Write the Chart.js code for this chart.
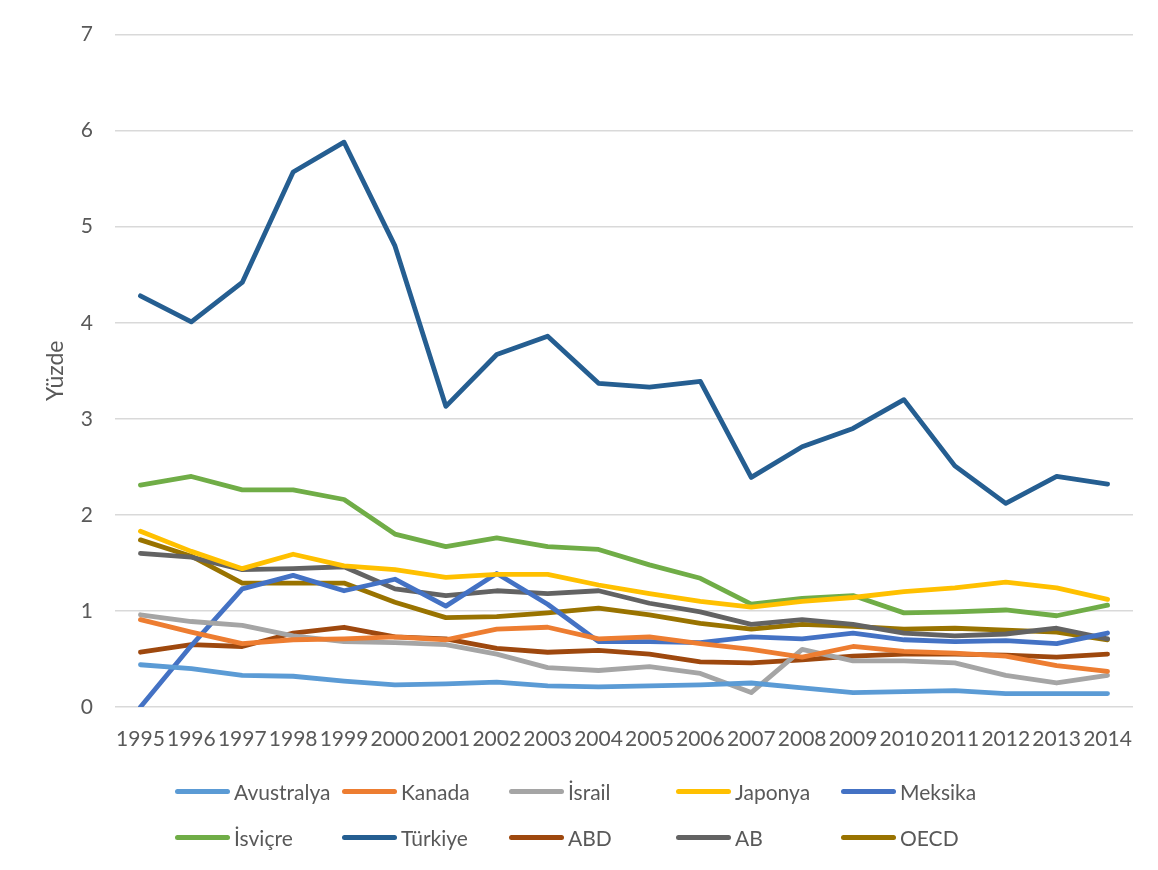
<!DOCTYPE html>
<html>
<head>
<meta charset="utf-8">
<script src="https://cdn.jsdelivr.net/npm/chart.js@4"></script>
<style>
  body { margin: 0; background: #fff; }
  #wrap { position: relative; width: 1158px; height: 870px; }
  #legend { position: absolute; left: 0; top: 0; width: 1158px; height: 870px; pointer-events: none;
            font-family: Lato, "Open Sans", sans-serif; font-size: 21px; color: #595959; }
  .item { position: absolute; display: flex; align-items: center; height: 26px; white-space: nowrap; }
  .item .sw { display: inline-block; width: 55px; height: 5px; border-radius: 3px; margin-right: 4px; }
</style>
</head>
<body>
<div id="wrap">
  <canvas id="chart" width="1158" height="870"></canvas>
  <div id="legend"></div>
</div>
<script>
// years on the x axis
const years = ["1995","1996","1997","1998","1999","2000","2001","2002","2003","2004",
               "2005","2006","2007","2008","2009","2010","2011","2012","2013","2014"];

const yTicks = [0, 1, 2, 3, 4, 5, 6, 7];

// series values (percent)
const avustralya = [0.44,0.40,0.33,0.32,0.27,0.23,0.24,0.26,0.22,0.21,0.22,0.23,0.25,0.20,0.15,0.16,0.17,0.14,0.14,0.14];
const kanada     = [0.91,0.78,0.66,0.70,0.71,0.73,0.70,0.81,0.83,0.71,0.73,0.66,0.60,0.52,0.63,0.58,0.56,0.53,0.43,0.37];
const israil     = [0.96,0.89,0.85,0.74,0.68,0.67,0.65,0.55,0.41,0.38,0.42,0.35,0.15,0.60,0.48,0.48,0.46,0.33,0.25,0.33];
const japonya    = [1.83,1.62,1.44,1.59,1.47,1.43,1.35,1.38,1.38,1.27,1.18,1.10,1.04,1.10,1.14,1.20,1.24,1.30,1.24,1.12];
const meksika    = [0.00,0.64,1.23,1.37,1.21,1.33,1.05,1.39,1.07,0.68,0.68,0.67,0.73,0.71,0.77,0.70,0.68,0.69,0.66,0.77];
const isvicre    = [2.31,2.40,2.26,2.26,2.16,1.80,1.67,1.76,1.67,1.64,1.48,1.34,1.07,1.13,1.16,0.98,0.99,1.01,0.95,1.06];
const turkiye    = [4.28,4.01,4.42,5.57,5.88,4.80,3.13,3.67,3.86,3.37,3.33,3.39,2.39,2.71,2.90,3.20,2.51,2.12,2.40,2.32];
const abd        = [0.57,0.65,0.63,0.77,0.83,0.73,0.71,0.61,0.57,0.59,0.55,0.47,0.46,0.49,0.53,0.55,0.55,0.54,0.52,0.55];
const ab         = [1.60,1.56,1.43,1.44,1.46,1.23,1.16,1.21,1.18,1.21,1.08,0.99,0.86,0.91,0.86,0.77,0.74,0.76,0.82,0.71];
const oecd       = [1.74,1.57,1.29,1.29,1.29,1.09,0.93,0.94,0.98,1.03,0.96,0.87,0.81,0.86,0.84,0.81,0.82,0.80,0.78,0.70];

const names  = ["Avustralya","Kanada","İsrail","Japonya","Meksika","İsviçre","Türkiye","ABD","AB","OECD"];
const colors = ["#5B9BD5","#ED7D31","#A5A5A5","#FFC000","#4472C4","#70AD47","#255E91","#9E480E","#636363","#997300"];
const series = [avustralya,kanada,israil,japonya,meksika,isvicre,turkiye,abd,ab,oecd];

const txt = "#595959";
const font = "Lato, 'Open Sans', sans-serif";

const datasets = series.map((vals, i) => ({
  label: names[i],
  data: vals,
  borderColor: colors[i],
  backgroundColor: colors[i],
  borderWidth: 4.8,
  borderCapStyle: "round",
  borderJoinStyle: "round",
  pointRadius: 0,
  tension: 0,
  fill: false
}));

new Chart(document.getElementById("chart"), {
  type: "line",
  data: { labels: years, datasets: datasets },
  options: {
    responsive: false,
    animation: false,
    layout: { padding: { left: 0, right: 25, top: 32, bottom: 0 } },
    plugins: { legend: { display: false }, tooltip: { enabled: false } },
    scales: {
      x: {
        offset: true,
        grid: { display: false, drawTicks: false },
        border: { display: false },
        ticks: { color: txt, font: { family: font, size: 21 }, padding: 20, maxRotation: 0, autoSkip: false },
        afterFit: s => { s.height = 163; }
      },
      y: {
        min: 0, max: 7,
        afterBuildTicks: s => { s.ticks = yTicks.map(v => ({ value: v })); },
        grid: { color: "#D9D9D9", lineWidth: 1.5, drawTicks: false },
        border: { display: false },
        ticks: { color: txt, font: { family: font, size: 21 }, padding: 22 },
        title: { display: true, text: "Yüzde", color: txt, font: { family: font, size: 23 }, padding: { top: 42, bottom: 0 } },
        afterFit: s => { s.width = 115; }
      }
    }
  }
});

// legend in fixed columns like the original
const legend = document.getElementById("legend");
const colX = [175, 342, 509, 676, 841];
const rowY = [791, 837];
names.forEach((n, i) => {
  const d = document.createElement("div");
  d.className = "item";
  d.style.left = colX[i % 5] + "px";
  d.style.top = (rowY[Math.floor(i / 5)] - 13) + "px";
  d.innerHTML = '<span class="sw" style="background:' + colors[i] + '"></span><span>' + n + '</span>';
  legend.appendChild(d);
});
</script>
</body>
</html>
